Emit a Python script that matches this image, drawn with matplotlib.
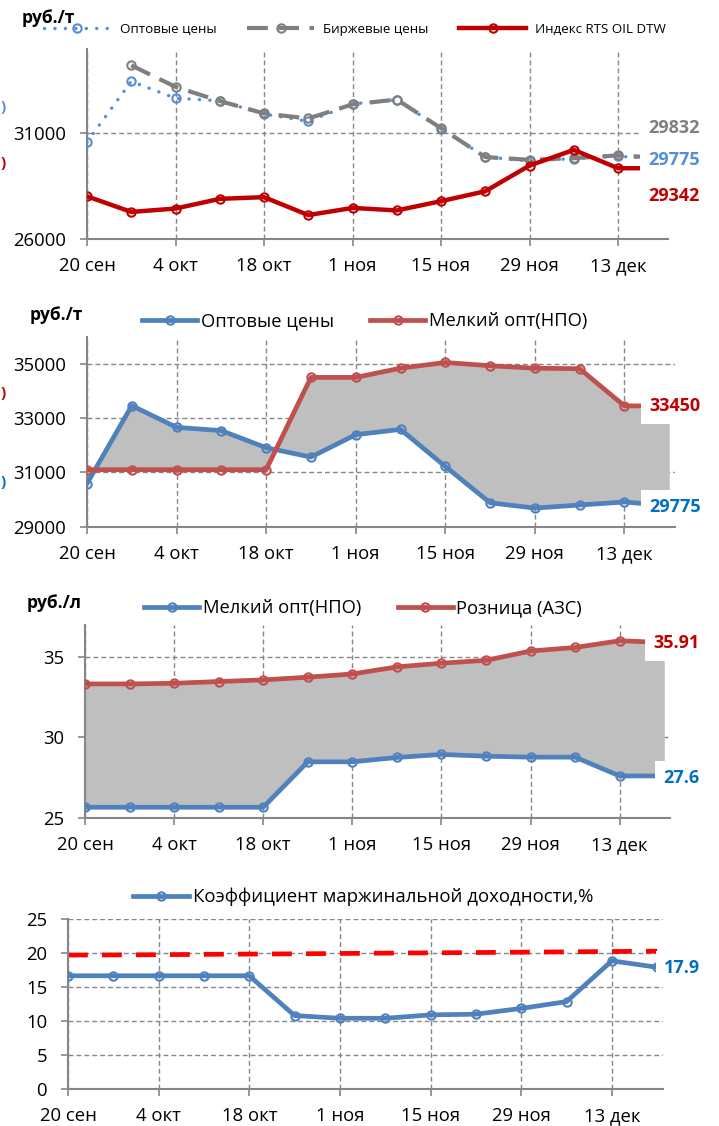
import matplotlib

matplotlib.use("Agg")
import matplotlib.pyplot as plt
import matplotlib.transforms as mtransforms
import numpy as np
import pandas as pd

plt.rcParams["font.family"] = ["Open Sans", "DejaVu Sans"]

# weekly observations
DATES = ["2013-09-20", "2013-09-27", "2013-10-04", "2013-10-11", "2013-10-18",
         "2013-10-25", "2013-11-01", "2013-11-08", "2013-11-15", "2013-11-22",
         "2013-11-29", "2013-12-06", "2013-12-13", "2013-12-20"]
TICK_DATES = ["2013-09-20", "2013-10-04", "2013-10-18", "2013-11-01",
              "2013-11-15", "2013-11-29", "2013-12-13"]
TICK_LABELS = ["20 сен", "4 окт", "18 окт", "1 ноя", "15 ноя", "29 ноя", "13 дек"]

# руб./т
wholesale = [30590, 33460, 32660, 32540, 31910, 31565, 32390, 32585, 31220,
             29880, 29685, 29800, 29910, 29775]
exchange = [np.nan, 34220, 33200, 32530, 31940, 31700, 32370, 32600, 31240,
            29870, 29740, 29820, 29950, 29832]
rts_index = [28010, 27270, 27430, 27890, 27970, 27120, 27460, 27340, 27780,
             28250, 29470, 30210, 29342, 29342]
small_wholesale_t = [31100, 31100, 31100, 31100, 31100, 34500, 34500, 34840,
                     35050, 34930, 34840, 34820, 33450, 33450]

# руб./л
small_wholesale_l = [25.65, 25.65, 25.65, 25.65, 25.65, 28.48, 28.48, 28.75,
                     28.94, 28.83, 28.77, 28.77, 27.60, 27.60]
retail = [33.33, 33.33, 33.37, 33.48, 33.58, 33.75, 33.95, 34.39, 34.62,
          34.80, 35.38, 35.60, 36.02, 35.91]

# %
margin = [16.65, 16.65, 16.65, 16.65, 16.65, 10.80, 10.40, 10.40, 10.90,
          11.00, 11.85, 12.85, 18.85, 17.90]
margin_trend = [19.70, 19.72, 19.75, 19.80, 19.84, 19.88, 19.93, 19.98,
                20.02, 20.07, 20.12, 20.17, 20.22, 20.27]

GRID = "#868686"
FILL = "#BFBFBF"
W, H = 719, 1126

start = pd.Timestamp(DATES[0])
x = np.array([(pd.Timestamp(d) - start).days for d in DATES])
xt = np.array([(pd.Timestamp(d) - start).days for d in TICK_DATES])


def px_axes(fig, left, right, top, bottom):
    return fig.add_axes([left / W, 1 - bottom / H, (right - left) / W, (bottom - top) / H])


def style(ax, ylim, yticks):
    ax.set_xlim(0, 91.9)
    ax.set_ylim(*ylim)
    ax.set_xticks(xt)
    ax.set_xticklabels(TICK_LABELS)
    ax.set_yticks(yticks)
    ax.set_axisbelow(True)
    ax.grid(True, color=GRID, linestyle=(0, (3.5, 2.2)), linewidth=1.0)
    for side in ("top", "right"):
        ax.spines[side].set_visible(False)
    for side in ("left", "bottom"):
        ax.spines[side].set_color(GRID)
        ax.spines[side].set_linewidth(1.5)
    ax.tick_params(axis="both", colors=GRID, length=5, width=1.2, labelsize=13.3,
                   labelcolor="black")
    ax.tick_params(axis="y", pad=10)
    ax.tick_params(axis="x", pad=8)


def end_label(ax, xf, y, text, color):
    tr = mtransforms.blended_transform_factory(ax.transAxes, ax.transData)
    ax.text(xf, y, text, transform=tr, ha="left", va="center", fontsize=13,
            fontweight="bold", color=color, clip_on=False, zorder=6,
            bbox=dict(facecolor="white", edgecolor="none", pad=6))


def legend(fig, handles, x0, yc, fontsize, **kw):
    fig.legend(handles=handles, loc="center left", bbox_to_anchor=(x0 / W, 1 - yc / H),
               ncol=len(handles), frameon=False, fontsize=fontsize, borderpad=0,
               borderaxespad=0, **kw)


fig = plt.figure(figsize=(W / 100, H / 100), dpi=100)

# panel 1
ax1 = px_axes(fig, 87, 668, 48.9, 238.7)
style(ax1, (26000, 35000), [26000, 31000])
h_opt, = ax1.plot(x, wholesale, color="#558ED5", lw=2.5, ls=(0, (0.01, 3.0)),
                  dash_capstyle="round", marker="o", ms=6, mfc="none", mew=1.5,
                  label="Оптовые цены", zorder=3)
h_exc, = ax1.plot(x, exchange, color="#7F7F7F", lw=3.0, ls=(0, (5, 2.5)),
                  marker="o", ms=6, mfc="none", mew=1.5, label="Биржевые цены", zorder=3)
h_rts, = ax1.plot(x, rts_index, color="#C00000", lw=3.2, marker="o", ms=6, mfc="none",
                  mew=1.5, label="Индекс RTS OIL DTW", zorder=4)
end_label(ax1, 0.966, 31250, "29832", "#7F7F7F")
end_label(ax1, 0.966, 29735, "29775", "#558ED5")
end_label(ax1, 0.966, 28028, "29342", "#C00000")
fig.text(22 / W, 1 - 18 / H, "руб./т", fontsize=12.5, fontweight="bold", va="center")
legend(fig, [h_opt, h_exc, h_rts], 44, 29, 9.6, handlelength=5.0,
       handletextpad=0.7, columnspacing=2.3)

# panel 2
ax2 = px_axes(fig, 87, 675, 336.7, 526.7)
style(ax2, (29000, 36000), [29000, 31000, 33000, 35000])
ax2.fill_between(x, wholesale, small_wholesale_t, color=FILL, lw=0, zorder=1)
h_w2, = ax2.plot(x, wholesale, color="#4F81BD", lw=3.4, marker="o", ms=6, mfc="none",
                 mew=1.5, label="Оптовые цены", zorder=3)
h_s2, = ax2.plot(x, small_wholesale_t, color="#C0504D", lw=3.4, marker="o", ms=6,
                 mfc="none", mew=1.5, label="Мелкий опт(НПО)", zorder=3)
end_label(ax2, 0.957, 33430, "33450", "#C00000")
end_label(ax2, 0.957, 29723, "29775", "#0070C0")
fig.text(30 / W, 1 - 315 / H, "руб./т", fontsize=12.5, fontweight="bold", va="center")
legend(fig, [h_w2, h_s2], 142, 321, 13.2, handlelength=3.0, handletextpad=0.2,
       columnspacing=2.0)

# panel 3
ax3 = px_axes(fig, 85, 670, 625, 817.7)
style(ax3, (25, 37), [25, 30, 35])
ax3.fill_between(x, small_wholesale_l, retail, color=FILL, lw=0, zorder=1)
h_s3, = ax3.plot(x, small_wholesale_l, color="#4F81BD", lw=3.4, marker="o", ms=6,
                 mfc="none", mew=1.5, label="Мелкий опт(НПО)", zorder=3)
h_r3, = ax3.plot(x, retail, color="#C0504D", lw=3.4, marker="o", ms=6, mfc="none",
                 mew=1.5, label="Розница (АЗС)", zorder=3)
end_label(ax3, 0.971, 35.85, "35.91", "#C00000")
end_label(ax3, 0.988, 27.47, "27.6", "#0070C0")
fig.text(27 / W, 1 - 603 / H, "руб./л", fontsize=12.5, fontweight="bold", va="center")
legend(fig, [h_s3, h_r3], 144, 608, 13.2, handlelength=3.0, handletextpad=0.2,
       columnspacing=2.0)

# panel 4
ax4 = px_axes(fig, 68, 663, 919, 1089)
style(ax4, (0, 25), [0, 5, 10, 15, 20, 25])
ax4.plot(x, margin_trend, color="#FF0000", lw=3.4, ls=(0, (4.2, 3)), zorder=2)
h_m, = ax4.plot(x, margin, color="#4F81BD", lw=3.4, marker="o", ms=6, mfc="none",
                mew=1.5, label="Коэффициент маржинальной доходности,%", zorder=3)
end_label(ax4, 1.002, 17.8, "17.9", "#0070C0")
legend(fig, [h_m], 133, 897, 13.4, handlelength=3.0, handletextpad=0.2)

# small marks at the left border
for y, col in [(107, "#558ED5"), (163, "#C00000"), (393, "#C00000"), (482, "#0070C0")]:
    fig.text(0.5 / W, 1 - y / H, ")", ha="left", va="center", fontsize=11,
             fontweight="bold", color=col)

fig.savefig("out.png", dpi=100)
